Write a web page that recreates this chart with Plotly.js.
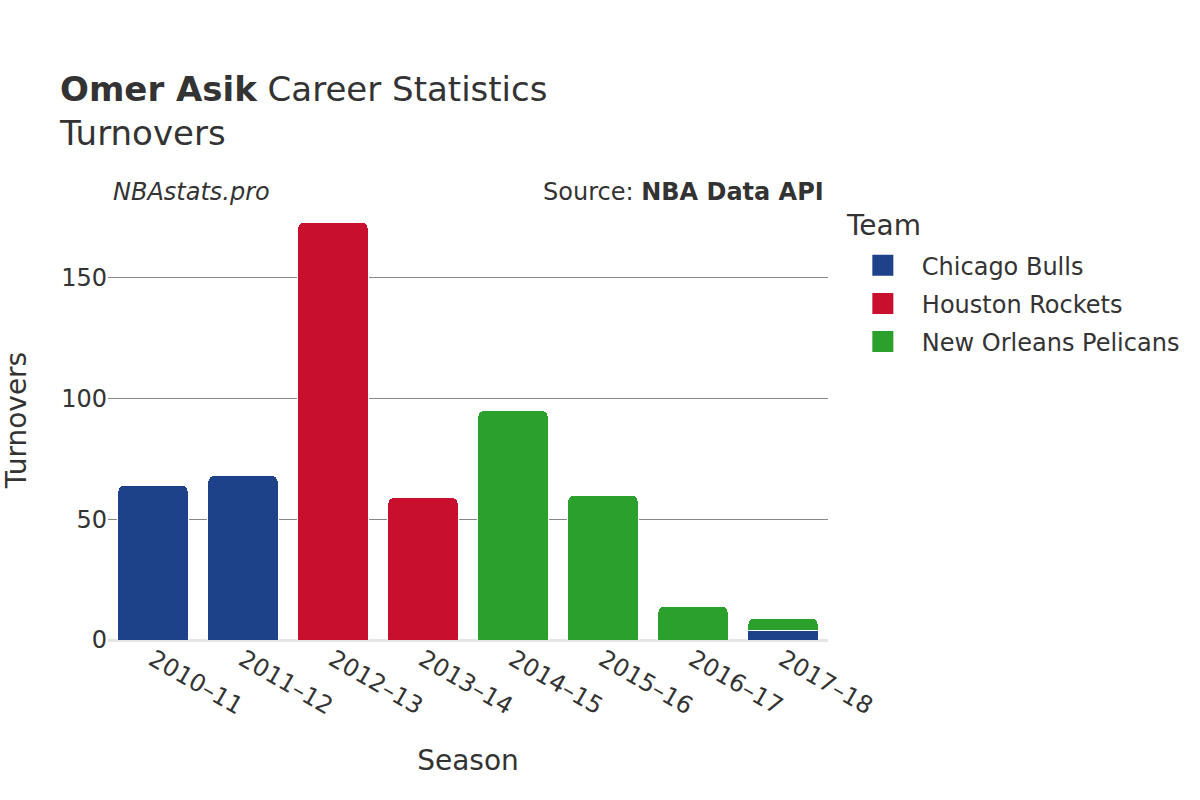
<!DOCTYPE html>
<html>
<head>
<meta charset="utf-8">
<script src="https://cdn.plot.ly/plotly-3.0.1.min.js"></script>
<style>
  body { margin: 0; }
  #chart { width: 1200px; height: 800px; }
</style>
</head>
<body>
<div id="chart"></div>
<script>
var seasons = ["2010–11", "2011–12", "2012–13", "2013–14", "2014–15", "2015–16", "2016–17", "2017–18"];

var bullsSeasons = ["2010–11", "2011–12", "2017–18"];
var bullsTov = [64, 68, 4];

var rocketsSeasons = ["2012–13", "2013–14"];
var rocketsTov = [173, 59];

var pelicansSeasons = ["2014–15", "2015–16", "2016–17", "2017–18"];
var pelicansTov = [95, 60, 14, 5];

var teams = ["Chicago Bulls", "Houston Rockets", "New Orleans Pelicans"];
var colors = ["#1d428a", "#c8102e", "#2ca02c"];

var font = "DejaVu Sans, sans-serif";

function team(i, x, y) {
  return {
    type: "bar",
    name: teams[i],
    legendgroup: teams[i],
    showlegend: false,
    x: x,
    y: y,
    marker: { color: colors[i], line: { color: "white", width: 1 } },
    hoverinfo: "x+y+name"
  };
}

// bigger legend swatches
function swatch(i) {
  return {
    type: "scatter",
    mode: "markers",
    name: teams[i],
    legendgroup: teams[i],
    x: [null],
    y: [null],
    marker: { symbol: "square", size: 16, color: colors[i], line: { color: colors[i], width: 5 } }
  };
}

var data = [
  team(0, bullsSeasons, bullsTov),
  team(1, rocketsSeasons, rocketsTov),
  team(2, pelicansSeasons, pelicansTov),
  swatch(0), swatch(1), swatch(2)
];

var layout = {
  width: 1200,
  height: 800,
  barmode: "stack",
  bargap: 0.22,
  barcornerradius: 6,
  paper_bgcolor: "white",
  plot_bgcolor: "white",
  font: { family: font, color: "#333", size: 24 },
  margin: { l: 108, r: 372, t: 200, b: 160 },
  title: {
    text: "<b>Omer Asik</b> Career Statistics<br>Turnovers",
    x: 0.05, xanchor: "left",
    y: 0.874, yanchor: "top",
    font: { family: font, size: 34, color: "#333" }
  },
  xaxis: {
    type: "category",
    categoryorder: "array",
    categoryarray: seasons,
    tickangle: 30,
    tickfont: { size: 24 },
    title: { text: "Season", font: { size: 28 }, standoff: 30 },
    showgrid: false,
    zeroline: false,
    showline: false
  },
  yaxis: {
    title: { text: "Turnovers", font: { size: 28 }, standoff: 28 },
    tickfont: { size: 24 },
    tickvals: [0, 50, 100, 150],
    gridcolor: "#888",
    gridwidth: 1,
    zeroline: true,
    zerolinecolor: "#e5e5e5",
    zerolinewidth: 3
  },
  legend: {
    font: { size: 24 },
    traceorder: "grouped",
    tracegroupgap: 4,
    x: 1.022, xanchor: "left",
    y: 0.902, yanchor: "top",
    itemwidth: 68
  },
  annotations: [
    {
      text: "Team",
      xref: "paper", yref: "paper",
      x: 1.0222, y: 0.941, xanchor: "left", yanchor: "middle",
      showarrow: false,
      font: { size: 28, color: "#333" }
    },
    {
      text: "<i>NBAstats.pro</i>",
      xref: "paper", yref: "paper",
      x: 0.004, y: 1.018, xanchor: "left", yanchor: "middle",
      showarrow: false,
      font: { size: 24, color: "#333" }
    },
    {
      text: "Source: <b>NBA Data API</b>",
      xref: "paper", yref: "paper",
      x: 0.997, y: 1.018, xanchor: "right", yanchor: "middle",
      showarrow: false,
      font: { size: 24, color: "#333" }
    }
  ]
};

Plotly.newPlot("chart", data, layout, { displayModeBar: false, staticPlot: true });
</script>
</body>
</html>
